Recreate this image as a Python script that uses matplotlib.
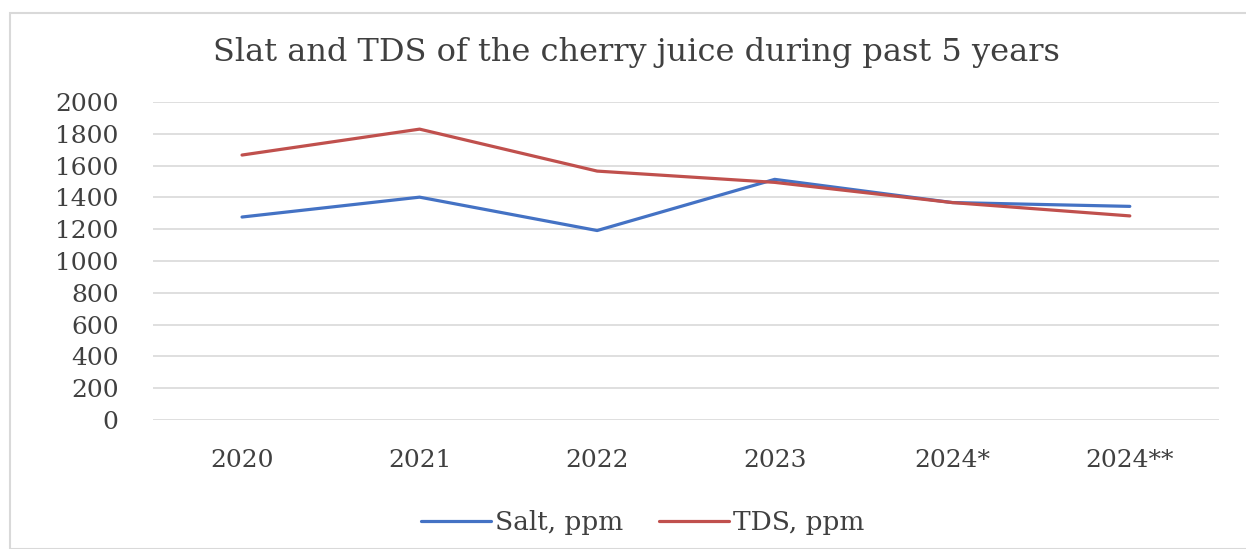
import matplotlib.pyplot as plt
from matplotlib.patches import Rectangle

years = ['2020', '2021', '2022', '2023', '2024*', '2024**']
salt_ppm = [1277, 1402, 1192, 1514, 1368, 1344]
tds_ppm = [1667, 1830, 1566, 1495, 1368, 1284]

plt.rcParams['font.family'] = 'DejaVu Serif'
txt = '#404040'

fig = plt.figure(figsize=(12.46, 5.49), dpi=100)
ax = fig.add_axes([0.123, 0.235, 0.855, 0.579])

x = range(len(years))
ax.plot(x, salt_ppm, color='#4472C4', lw=2.3, label='Salt, ppm', solid_capstyle='round')
ax.plot(x, tds_ppm, color='#C0504D', lw=2.3, label='TDS, ppm', solid_capstyle='round')

ax.set_xlim(-0.5, len(years) - 0.5)
ax.set_ylim(0, 2000)
ax.set_yticks(range(0, 2001, 200))
ax.set_xticks(list(x))
ax.set_xticklabels(years)
ax.tick_params(axis='y', length=0, pad=25, labelsize=18, labelcolor=txt)
ax.tick_params(axis='x', length=0, pad=21, labelsize=18, labelcolor=txt)
ax.grid(axis='y', color='#D9D9D9', lw=1.2)
ax.set_axisbelow(True)
for s in ax.spines.values():
    s.set_visible(False)

fig.text(0.511, 0.905, 'Slat and TDS of the cherry juice during past 5 years',
         ha='center', va='center', fontsize=23, color=txt)

fig.legend(loc='center', bbox_to_anchor=(0.516, 0.048), ncol=2, frameon=False,
           fontsize=19, handlelength=2.65, handletextpad=0.15, columnspacing=1.35,
           labelcolor=txt)

# light border round the chart area
fig.patches.append(Rectangle((0.008, 0.0), 1.0, 0.976, transform=fig.transFigure,
                             fill=False, edgecolor='#D9D9D9', lw=1.5))

plt.savefig('out.png', dpi=100)
